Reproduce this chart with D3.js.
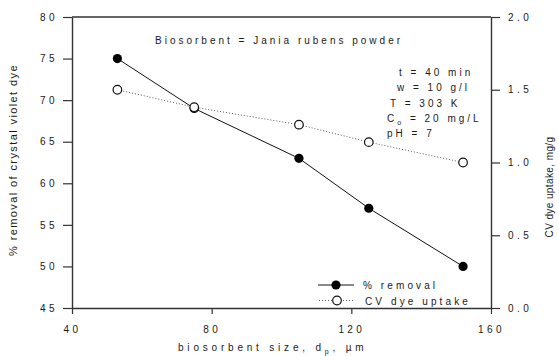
<!DOCTYPE html>
<html>
<head>
<meta charset="utf-8">
<script src="https://cdn.jsdelivr.net/npm/d3@7/dist/d3.min.js"></script>
<style>
  html, body { margin: 0; padding: 0; background: #fff; }
  svg { display: block; }
  text { font-family: "Liberation Sans", Arial, sans-serif; fill: #1a1a1a; }
</style>
</head>
<body>
<svg id="chart" width="559" height="356"></svg>
<script>
// Particle size (µm) and the two measured responses
const particleSize = [53, 75, 105, 125, 152];
const removalPct = [75, 69, 63, 57, 50];
const dyeUptake = [1.5, 1.38, 1.26, 1.14, 1.0];

const xTicks = [40, 80, 120, 160];
const yLeftTicks = [45, 50, 55, 60, 65, 70, 75, 80];
const yRightTicks = [0.0, 0.5, 1.0, 1.5, 2.0];

const conditions = ["t = 40 min", "w = 10 g/l", "T = 303 K", "C\u2092 = 20 mg/L", "pH = 7"];

const svg = d3.select("#chart");
const m = { left: 72, right: 491, top: 17, bottom: 308 };

const x = d3.scaleLinear().domain([40, 160]).range([m.left, m.right]);
const yL = d3.scaleLinear().domain([45, 80]).range([m.bottom, m.top]);
const yR = d3.scaleLinear().domain([0, 2]).range([m.bottom, m.top]);

const axisColor = "#333";

function styleAxis(g) {
  g.select(".domain").attr("stroke", axisColor).attr("stroke-width", 1.4);
  g.selectAll(".tick line").attr("stroke", axisColor).attr("stroke-width", 1.2);
  g.selectAll(".tick text")
    .style("font-family", "'Liberation Sans', Arial, sans-serif")
    .style("font-size", "10px")
    .style("letter-spacing", "3.4px")
    .attr("fill", "#1a1a1a");
}

// left axis (% removal)
svg.append("g")
  .attr("transform", `translate(${m.left},0)`)
  .call(d3.axisLeft(yL).tickValues(yLeftTicks).tickSize(9).tickSizeOuter(0).tickPadding(5).tickFormat(d3.format("d")))
  .call(styleAxis);

// right axis (uptake)
svg.append("g")
  .attr("transform", `translate(${m.right},0)`)
  .call(d3.axisRight(yR).tickValues(yRightTicks).tickSize(9).tickSizeOuter(0).tickPadding(8).tickFormat(d3.format(".1f")))
  .call(styleAxis);

// bottom axis
svg.append("g")
  .attr("transform", `translate(0,${m.bottom})`)
  .call(d3.axisBottom(x).tickValues(xTicks).tickSize(6).tickSizeOuter(0).tickPadding(12).tickFormat(d3.format("d")))
  .call(styleAxis);

// top frame line
svg.append("line")
  .attr("x1", m.left).attr("x2", m.right)
  .attr("y1", m.top).attr("y2", m.top)
  .attr("stroke", axisColor).attr("stroke-width", 1.4);

// uptake series: dotted line with open circles
const lineR = d3.line().x((d, i) => x(particleSize[i])).y(d => yR(d));
svg.append("path")
  .datum(dyeUptake)
  .attr("d", lineR)
  .attr("fill", "none")
  .attr("stroke", "#555")
  .attr("stroke-width", 1)
  .attr("stroke-dasharray", "1,2");

// removal series: solid line with filled circles
const lineL = d3.line().x((d, i) => x(particleSize[i])).y(d => yL(d));
svg.append("path")
  .datum(removalPct)
  .attr("d", lineL)
  .attr("fill", "none")
  .attr("stroke", "#111")
  .attr("stroke-width", 1);

svg.selectAll("circle.removal")
  .data(removalPct)
  .join("circle")
  .attr("class", "removal")
  .attr("cx", (d, i) => x(particleSize[i]))
  .attr("cy", d => yL(d))
  .attr("r", 4.6)
  .attr("fill", "#000");

svg.selectAll("circle.uptake")
  .data(dyeUptake)
  .join("circle")
  .attr("class", "uptake")
  .attr("cx", (d, i) => x(particleSize[i]))
  .attr("cy", d => yR(d))
  .attr("r", 4.3)
  .attr("fill", "#fff")
  .attr("stroke", "#111")
  .attr("stroke-width", 1.2);

// header inside plot
svg.append("text")
  .attr("x", 155).attr("y", 44)
  .style("font-size", "10px")
  .style("letter-spacing", "3px")
  .text("Biosorbent = Jania rubens powder");

// experimental conditions block
const condX = [399, 397, 390, 387, 387];
svg.selectAll("text.cond")
  .data(conditions)
  .join("text")
  .attr("class", "cond")
  .attr("x", (d, i) => condX[i])
  .attr("y", (d, i) => 76 + i * 15.3)
  .style("font-size", "10px")
  .style("letter-spacing", "3px")
  .each(function (d) {
    const t = d3.select(this);
    if (d.startsWith("C")) {
      t.append("tspan").text("C");
      t.append("tspan").attr("dy", 3).style("font-size", "7px").text("o");
      t.append("tspan").attr("dy", -3).text(" = 20 mg/L");
    } else {
      t.text(d);
    }
  });

// legend
const legend = svg.append("g");
legend.append("line").attr("x1", 318).attr("x2", 354).attr("y1", 285).attr("y2", 285)
  .attr("stroke", "#111").attr("stroke-width", 1);
legend.append("circle").attr("cx", 336).attr("cy", 285).attr("r", 4.6).attr("fill", "#000");
legend.append("text").attr("x", 363).attr("y", 289)
  .style("font-size", "10px").style("letter-spacing", "3.1px").text("% removal");

legend.append("line").attr("x1", 319).attr("x2", 355).attr("y1", 300.5).attr("y2", 300.5)
  .attr("stroke", "#555").attr("stroke-width", 1).attr("stroke-dasharray", "1,2");
legend.append("circle").attr("cx", 337).attr("cy", 300.5).attr("r", 4.3)
  .attr("fill", "#fff").attr("stroke", "#111").attr("stroke-width", 1.2);
legend.append("text").attr("x", 365).attr("y", 304.5)
  .style("font-size", "10px").style("letter-spacing", "3.1px").text("CV dye uptake");

// axis titles
svg.append("text")
  .attr("transform", "translate(17,160) rotate(-90)")
  .attr("text-anchor", "middle")
  .style("font-size", "11px")
  .style("letter-spacing", "1.4px")
  .text("% removal of crystal violet dye");

svg.append("text")
  .attr("transform", "translate(553,187) rotate(-90)")
  .attr("text-anchor", "middle")
  .style("font-size", "10px")
  .style("letter-spacing", "0.4px")
  .text("CV dye uptake, mg/g");

const xt = svg.append("text")
  .attr("x", 178).attr("y", 351)
  .style("font-size", "10px")
  .style("letter-spacing", "3.8px");
xt.append("tspan").text("biosorbent size, d");
xt.append("tspan").attr("dy", 3).style("font-size", "7px").text("p");
xt.append("tspan").attr("dy", -3).text(", \u00b5m");
</script>
</body>
</html>
